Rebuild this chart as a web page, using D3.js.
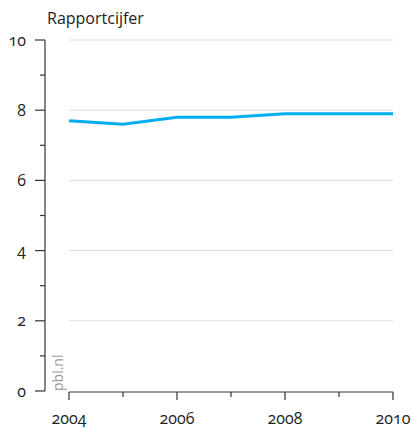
<!DOCTYPE html>
<html><head><meta charset="utf-8">
<script src="https://cdn.jsdelivr.net/npm/d3@7"></script>
<style>
body{margin:0;background:#fff;}
text{font-family:"Open Sans","Noto Sans",sans-serif;font-variant-numeric:oldstyle-nums;}
</style></head><body>
<svg id="c" width="412" height="430"></svg>
<script>
const years = [2004, 2005, 2006, 2007, 2008, 2009, 2010];
const values = [7.7, 7.6, 7.8, 7.8, 7.9, 7.9, 7.9];
const yTicks = [0, 2, 4, 6, 8, 10];
const xTicks = [2004, 2006, 2008, 2010];
const title = "Rapportcijfer";
const source = "pbl.nl";

const svg = d3.select("#c");
const x = d3.scaleLinear().domain([2004, 2010]).range([69, 393]);
const y = d3.scaleLinear().domain([0, 10]).range([391, 40]);

// gridlines
svg.append("g").selectAll("line").data(yTicks.filter(d => d > 0)).join("line")
  .attr("x1", x(2004)).attr("x2", x(2010))
  .attr("y1", d => y(d)).attr("y2", d => y(d))
  .attr("stroke", "#dcdcdc").attr("stroke-width", 1);

// y axis
const yAxis = svg.append("g").attr("transform", "translate(45,0)");
yAxis.append("line").attr("x1", 0).attr("x2", 0).attr("y1", y(10)).attr("y2", y(0))
  .attr("stroke", "#333").attr("stroke-width", 1.2);
yAxis.selectAll(".maj").data(yTicks).join("line").attr("class", "maj")
  .attr("x1", -10).attr("x2", 0).attr("y1", d => y(d)).attr("y2", d => y(d))
  .attr("stroke", "#333").attr("stroke-width", 1.2);
yAxis.selectAll(".min").data(d3.range(1, 10, 2)).join("line").attr("class", "min")
  .attr("x1", -5).attr("x2", 0).attr("y1", d => y(d)).attr("y2", d => y(d))
  .attr("stroke", "#333").attr("stroke-width", 1.2);
yAxis.selectAll("text").data(yTicks).join("text")
  .attr("x", -19).attr("y", d => y(d)).attr("dy", "0.35em")
  .attr("text-anchor", "end").attr("font-size", 16).attr("fill", "#222")
  .text(d => d);

// x axis
const xAxis = svg.append("g").attr("transform", "translate(0,392)");
xAxis.append("line").attr("x1", x(2004)).attr("x2", x(2010)).attr("y1", 0).attr("y2", 0)
  .attr("stroke", "#333").attr("stroke-width", 1.2);
xAxis.selectAll(".maj").data(xTicks).join("line").attr("class", "maj")
  .attr("x1", d => x(d)).attr("x2", d => x(d)).attr("y1", 0).attr("y2", 8)
  .attr("stroke", "#333").attr("stroke-width", 1.2);
xAxis.selectAll(".min").data(years.filter(d => !xTicks.includes(d))).join("line").attr("class", "min")
  .attr("x1", d => x(d)).attr("x2", d => x(d)).attr("y1", 0).attr("y2", 5)
  .attr("stroke", "#333").attr("stroke-width", 1.2);
xAxis.selectAll("text").data(xTicks).join("text")
  .attr("x", d => x(d)).attr("y", 32)
  .attr("text-anchor", "middle").attr("font-size", 16).attr("fill", "#222")
  .text(d => d);

// title
svg.append("text").attr("x", 47).attr("y", 24).attr("font-size", 16).attr("fill", "#222").text(title);

// source
svg.append("text").attr("transform", `translate(63,391) rotate(-90)`)
  .attr("font-size", 14).attr("fill", "#999").text(source);

// line
svg.append("path").datum(years.map((d, i) => [d, values[i]]))
  .attr("d", d3.line().x(d => x(d[0])).y(d => y(d[1])))
  .attr("fill", "none").attr("stroke", "#00aeef").attr("stroke-width", 3);
</script>
</body></html>
